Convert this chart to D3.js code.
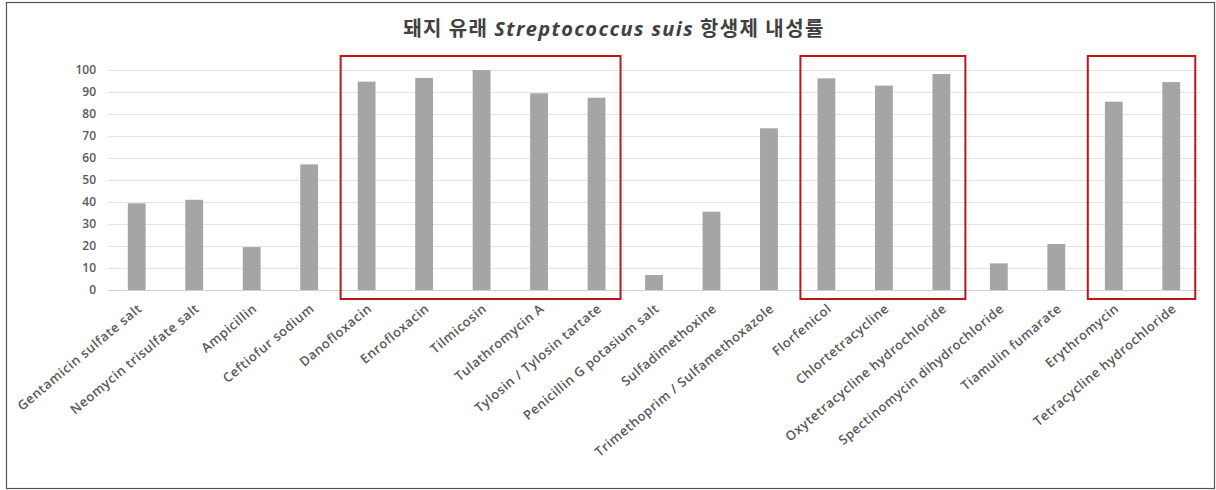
<!DOCTYPE html>
<html>
<head>
<meta charset="utf-8">
<script src="https://cdn.jsdelivr.net/npm/d3@7"></script>
<style>
  html, body { margin: 0; padding: 0; background: #fff; }
  svg { display: block; }
</style>
</head>
<body>
<svg id="chart" width="1216" height="490"></svg>
<script>
// Antibiotic names (x categories)
const categories = [
  "Gentamicin sulfate salt",
  "Neomycin trisulfate salt",
  "Ampicillin",
  "Ceftiofur sodium",
  "Danofloxacin",
  "Enrofloxacin",
  "Tilmicosin",
  "Tulathromycin A",
  "Tylosin / Tylosin tartate",
  "Penicillin G potasium salt",
  "Sulfadimethoxine",
  "Trimethoprim / Sulfamethoxazole",
  "Florfenicol",
  "Chlortetracycline",
  "Oxytetracycline hydrochloride",
  "Spectinomycin dihydrochloride",
  "Tiamulin fumarate",
  "Erythromycin",
  "Tetracycline hydrochloride"
];

// Resistance rate (%) for each antibiotic
const resistance = [39.4, 41.0, 19.5, 57.1, 94.7, 96.4, 100, 89.4, 87.4, 6.8, 35.6, 73.5, 96.2, 92.9, 98.2, 12.1, 20.9, 85.6, 94.5];

// Y-axis ticks
const yTicks = [0, 10, 20, 30, 40, 50, 60, 70, 80, 90, 100];

// Highlighted groups (first and last category of each framed group)
const highlightFirst = ["Danofloxacin", "Florfenicol", "Erythromycin"];
const highlightLast  = ["Tylosin / Tylosin tartate", "Oxytetracycline hydrochloride", "Tetracycline hydrochloride"];

const svg = d3.select("#chart");
const plot = { left: 108, right: 1200, top: 70, bottom: 290 };

// outer frame
svg.append("rect")
  .attr("x", 6.5).attr("y", 2.5)
  .attr("width", 1208).attr("height", 486)
  .attr("fill", "#fff")
  .attr("stroke", "#555").attr("stroke-width", 1.2);

const x = d3.scaleBand()
  .domain(categories)
  .range([plot.left, plot.right])
  .paddingInner(0.69)
  .paddingOuter(0.345);

const y = d3.scaleLinear()
  .domain([0, 100])
  .range([plot.bottom, plot.top]);

// title
const title = svg.append("text")
  .attr("x", 614).attr("y", 36)
  .attr("text-anchor", "middle")
  .attr("font-family", "'Noto Sans CJK KR', 'Noto Sans', sans-serif")
  .attr("font-weight", "bold")
  .attr("font-size", 20)
  .attr("letter-spacing", 1.4)
  .attr("fill", "#404040");
title.append("tspan").text("돼지 유래 ");
title.append("tspan").attr("font-style", "italic").attr("font-family", "'Open Sans', 'Noto Sans', sans-serif").text("Streptococcus suis");
title.append("tspan").text(" 항생제 내성률");

// gridlines
svg.append("g")
  .selectAll("line")
  .data(yTicks)
  .join("line")
  .attr("x1", plot.left).attr("x2", plot.right)
  .attr("y1", d => Math.round(y(d)) + 0.5)
  .attr("y2", d => Math.round(y(d)) + 0.5)
  .attr("stroke", d => d === 0 ? "#d0d0d0" : "#e3e3e3")
  .attr("stroke-width", 1);

// y axis labels
const yAxis = svg.append("g")
  .attr("transform", `translate(${plot.left - 12},0)`)
  .call(d3.axisLeft(y).tickValues(yTicks).tickSize(0).tickPadding(0));
yAxis.select(".domain").remove();
yAxis.selectAll("text")
  .attr("font-family", "'Open Sans', 'Noto Sans', sans-serif")
  .attr("font-weight", 600)
  .attr("font-size", 12)
  .attr("fill", "#595959");

// bars
svg.append("g")
  .selectAll("rect")
  .data(categories)
  .join("rect")
  .attr("x", d => x(d))
  .attr("y", (d, i) => y(resistance[i]))
  .attr("width", x.bandwidth())
  .attr("height", (d, i) => y(0) - y(resistance[i]))
  .attr("fill", "#a5a5a5");

// x axis labels
const xAxis = svg.append("g")
  .attr("transform", `translate(0,${plot.bottom})`)
  .call(d3.axisBottom(x).tickSize(0).tickPadding(0));
xAxis.select(".domain").remove();
xAxis.selectAll("text")
  .attr("font-family", "'Open Sans', 'Noto Sans', sans-serif")
  .attr("font-weight", 600)
  .attr("font-size", 13)
  .attr("letter-spacing", 0.55)
  .attr("fill", "#595959")
  .attr("text-anchor", "end")
  .attr("dy", null)
  .attr("transform", "translate(6,20) rotate(-40)");

// red frames around groups
const frames = highlightFirst.map((f, i) => ({ first: f, last: highlightLast[i] }));
svg.append("g")
  .selectAll("rect")
  .data(frames)
  .join("rect")
  .attr("x", d => x(d.first) + x.bandwidth() / 2 - 26)
  .attr("y", 56)
  .attr("width", d => (x(d.last) - x(d.first)) + 50)
  .attr("height", 243)
  .attr("fill", "none")
  .attr("stroke", "#c0141c")
  .attr("stroke-width", 2);
</script>
</body>
</html>
